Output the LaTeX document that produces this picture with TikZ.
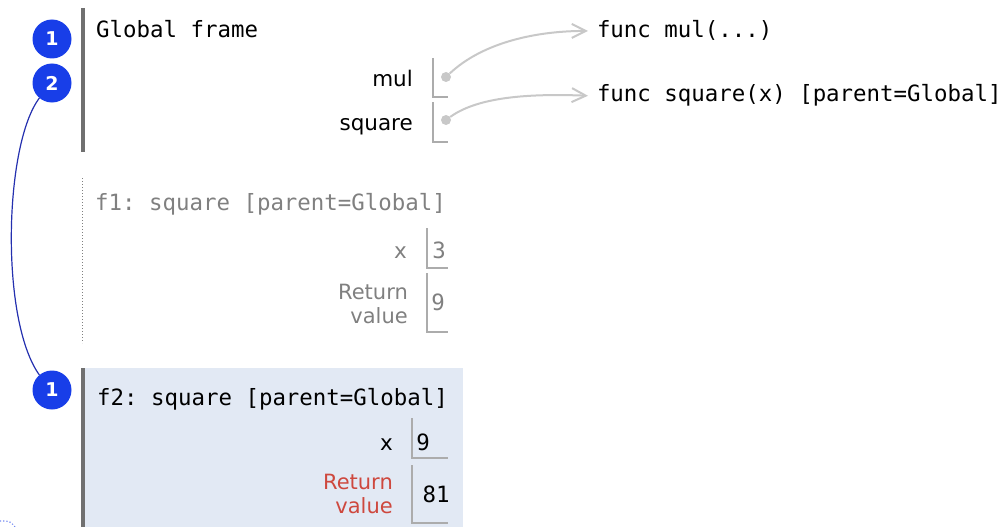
\documentclass[tikz,border=0pt]{standalone}
\usepackage{fontspec}
\setmainfont{DejaVu Sans}
\setmonofont{DejaVu Sans Mono}
\usepackage{xcolor}
\usetikzlibrary{arrows.meta}
\definecolor{badgeblue}{RGB}{24,62,232}
\definecolor{linkblue}{RGB}{36,48,175}
\definecolor{framebar}{RGB}{112,112,112}
\definecolor{cellgray}{RGB}{172,172,172}
\definecolor{pointgray}{RGB}{200,200,200}
\definecolor{fadedtext}{RGB}{128,128,128}
\definecolor{activebg}{RGB}{226,233,244}
\definecolor{retred}{RGB}{206,72,62}
\tikzstyle{badge} = [circle, fill=badgeblue, minimum size=39pt, inner sep=0pt, text=white, font=\bfseries\fontsize{19}{19}\selectfont]
\tikzstyle{frametitle} = [anchor=base west, inner sep=0pt, font=\ttfamily\fontsize{22.4}{26}\selectfont]
\tikzstyle{funclabel} = [anchor=base west, inner sep=0pt, outer xsep=9pt, font=\ttfamily\fontsize{22.4}{26}\selectfont]
\tikzstyle{varname} = [anchor=base east, inner sep=0pt, font=\fontsize{21.5}{24}\selectfont]
\tikzstyle{retname} = [anchor=east, align=right, inner sep=0pt, font=\fontsize{21}{24}\selectfont]
\tikzstyle{value} = [anchor=base, inner sep=0pt, font=\ttfamily\fontsize{22.4}{26}\selectfont]
\tikzstyle{cell} = [draw=cellgray, line width=1.5pt]
\tikzstyle{bar} = [draw=framebar, line width=3.5pt]
\tikzstyle{dot} = [circle, fill=pointgray, minimum size=10pt, inner sep=0pt]
\tikzstyle{pointer} = [draw=pointgray, line width=2pt, -{Straight Barb[length=14pt,width=14pt,line width=2pt]}]
\tikzstyle{link} = [draw=linkblue, line width=1.2pt]

\begin{document}
\begin{tikzpicture}[x=1pt, y=-1pt]
	\useasboundingbox (0,0) rectangle (1007,527);

	% global frame
	\draw [bar] (83,8) -- (83,152);
	\node (gtitle) [frametitle] at (96,38) {Global frame};
	\node (mul) [varname] at (413,87) {mul};
	\node (square) [varname] at (413,130) {square};
	\draw [cell] (433,58) -- (433,97) -- (448,97);
	\draw [cell] (433,102) -- (433,142) -- (448,142);
	\node (dmul) [dot] at (446,77) {};
	\node (dsquare) [dot] at (446,120) {};
	\node (fmul) [funclabel] at (588,38) {func mul(...)};
	\node (fsquare) [funclabel] at (588,102) {func square(x) [parent=Global]};
	\draw [pointer] (dmul) .. controls (480,45) and (530,31) .. (fmul.west);
	\draw [pointer] (dsquare) .. controls (475,99) and (520,93) .. (fsquare.west);

	% f1, finished
	\draw [draw=fadedtext, dotted, line width=1pt] (82,178) -- (82,343);
	\node (fonetitle) [frametitle, text=fadedtext] at (95,210) {f1: square [parent=Global]};
	\node (fonex) [varname, text=fadedtext] at (407,258) {x};
	\node (fonexval) [value, text=fadedtext] at (439,258) {3};
	\node (foneret) [retname, text=fadedtext] at (408,304) {Return\\value};
	\node (foneretval) [value, text=fadedtext] at (438,310) {9};
	\draw [cell] (427,228) -- (427,268) -- (448,268);
	\draw [cell] (427,273) -- (427,332) -- (448,332);

	% f2, active
	\fill [activebg] (81,368) rectangle (463,527);
	\draw [bar] (83,368) -- (83,527);
	\node (ftwotitle) [frametitle] at (97,405) {f2: square [parent=Global]};
	\node (ftwox) [varname] at (393,450) {x};
	\node (ftwoxval) [value] at (423,450) {9};
	\node (ftworet) [retname, text=retred] at (393,494) {Return\\value};
	\node (ftworetval) [value] at (436,502) {81};
	\draw [cell] (412,418) -- (412,458) -- (448,458);
	\draw [cell] (412,465) -- (412,523) -- (448,523);

	% step badges
	\node (bone) [badge] at (52,39) {1};
	\node (btwo) [badge] at (52,83) {2};
	\node (bthree) [badge] at (52,390) {1};
	\draw [link] (btwo.230) .. controls (4,145) and (0,320) .. (bthree.130);
	\draw [draw=badgeblue!60, dotted, line width=1.2pt] (0,521) .. controls (10,521) .. (15,527);
\end{tikzpicture}
\end{document}
